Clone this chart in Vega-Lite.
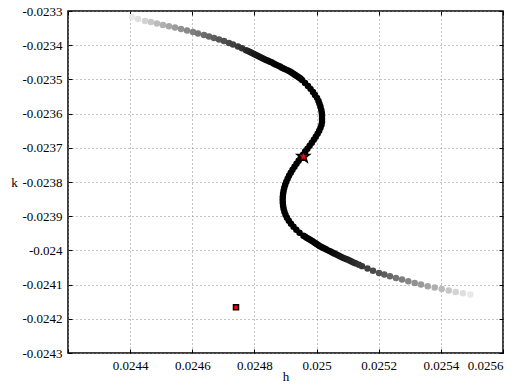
{
  "$schema": "https://vega.github.io/schema/vega-lite/v6.json",
  "width": 435,
  "height": 342,
  "autosize": {"type": "none"},
  "padding": {"left": 68, "top": 11, "right": 21, "bottom": 34},
  "background": "white",
  "config": {
    "view": {"stroke": "black", "strokeWidth": 1.5},
    "font": "Liberation Serif",
    "axis": {
      "labelFont": "Liberation Serif",
      "labelFontSize": 13,
      "labelColor": "black",
      "titleFont": "Liberation Serif",
      "titleFontSize": 13,
      "titleFontWeight": "normal",
      "titleColor": "black",
      "domain": false,
      "tickColor": "black",
      "tickSize": -4,
      "tickWidth": 1,
      "gridColor": "#888888",
      "gridDash": [1, 3],
      "gridWidth": 1,
      "gridOpacity": 1
    }
  },
  "datasets": {
    "curve": [
      {"h": 0.024406, "k": -0.0233175, "p": 0.03},
      {"h": 0.0244253, "k": -0.0233234, "p": 0.07},
      {"h": 0.0244478, "k": -0.0233292, "p": 0.12},
      {"h": 0.0244671, "k": -0.0233321, "p": 0.17},
      {"h": 0.0244864, "k": -0.0233365, "p": 0.22},
      {"h": 0.0245057, "k": -0.0233409, "p": 0.27},
      {"h": 0.0245251, "k": -0.0233447, "p": 0.31},
      {"h": 0.0245444, "k": -0.0233485, "p": 0.35},
      {"h": 0.0245637, "k": -0.0233526, "p": 0.39},
      {"h": 0.024583, "k": -0.0233569, "p": 0.43},
      {"h": 0.0246023, "k": -0.0233613, "p": 0.47},
      {"h": 0.0246184, "k": -0.0233657, "p": 0.51},
      {"h": 0.0246377, "k": -0.0233701, "p": 0.55},
      {"h": 0.0246538, "k": -0.0233745, "p": 0.58},
      {"h": 0.0246699, "k": -0.0233788, "p": 0.61},
      {"h": 0.024686, "k": -0.0233832, "p": 0.64},
      {"h": 0.0247021, "k": -0.0233876, "p": 0.67},
      {"h": 0.0247182, "k": -0.0233934, "p": 0.70},
      {"h": 0.024731, "k": -0.0233978, "p": 0.73},
      {"h": 0.0247471, "k": -0.0234037, "p": 0.76},
      {"h": 0.02476, "k": -0.0234089, "p": 0.79},
      {"h": 0.0247729, "k": -0.0234145, "p": 0.82},
      {"h": 0.0247793, "k": -0.0234171, "p": 0.835},
      {"h": 0.0247857, "k": -0.0234197, "p": 0.85},
      {"h": 0.0247922, "k": -0.0234226, "p": 0.865},
      {"h": 0.0247986, "k": -0.0234256, "p": 0.88},
      {"h": 0.0248051, "k": -0.0234285, "p": 0.89},
      {"h": 0.0248115, "k": -0.0234314, "p": 0.90},
      {"h": 0.0248179, "k": -0.0234343, "p": 0.91},
      {"h": 0.0248244, "k": -0.0234372, "p": 0.92},
      {"h": 0.0248308, "k": -0.0234401, "p": 0.93},
      {"h": 0.0248372, "k": -0.0234431, "p": 0.94},
      {"h": 0.0248437, "k": -0.0234457, "p": 0.95},
      {"h": 0.0248501, "k": -0.0234483, "p": 0.96},
      {"h": 0.0248566, "k": -0.0234509, "p": 0.97},
      {"h": 0.024863, "k": -0.0234539, "p": 0.98},
      {"h": 0.0248694, "k": -0.0234568, "p": 0.99},
      {"h": 0.0248759, "k": -0.0234597, "p": 1},
      {"h": 0.0248823, "k": -0.0234626, "p": 1},
      {"h": 0.0248887, "k": -0.0234656, "p": 1},
      {"h": 0.0248952, "k": -0.0234685, "p": 1},
      {"h": 0.0249016, "k": -0.0234714, "p": 1},
      {"h": 0.024908, "k": -0.023474, "p": 1},
      {"h": 0.0249145, "k": -0.0234766, "p": 1},
      {"h": 0.0249193, "k": -0.0234796, "p": 1},
      {"h": 0.0249241, "k": -0.0234825, "p": 1},
      {"h": 0.024929, "k": -0.0234854, "p": 1},
      {"h": 0.0249338, "k": -0.0234883, "p": 1},
      {"h": 0.0249386, "k": -0.0234912, "p": 1},
      {"h": 0.0249435, "k": -0.0234942, "p": 1},
      {"h": 0.0249483, "k": -0.0234977, "p": 1},
      {"h": 0.0249531, "k": -0.0235015, "p": 1},
      {"h": 0.0249628, "k": -0.0235102, "p": 1},
      {"h": 0.0249724, "k": -0.023519, "p": 1},
      {"h": 0.0249805, "k": -0.0235277, "p": 1},
      {"h": 0.0249885, "k": -0.0235365, "p": 1},
      {"h": 0.0249949, "k": -0.0235453, "p": 1},
      {"h": 0.0250014, "k": -0.023554, "p": 1},
      {"h": 0.0250062, "k": -0.0235628, "p": 1},
      {"h": 0.0250094, "k": -0.0235715, "p": 1},
      {"h": 0.0250126, "k": -0.0235803, "p": 1},
      {"h": 0.0250152, "k": -0.0235891, "p": 1},
      {"h": 0.0250168, "k": -0.0235978, "p": 1},
      {"h": 0.0250175, "k": -0.0236066, "p": 1},
      {"h": 0.0250175, "k": -0.0236153, "p": 1},
      {"h": 0.0250175, "k": -0.0236241, "p": 1},
      {"h": 0.0250159, "k": -0.0236328, "p": 1},
      {"h": 0.0250126, "k": -0.0236416, "p": 1},
      {"h": 0.0250085, "k": -0.0236504, "p": 1},
      {"h": 0.0250033, "k": -0.0236591, "p": 1},
      {"h": 0.0249975, "k": -0.0236679, "p": 1},
      {"h": 0.0249911, "k": -0.0236766, "p": 1},
      {"h": 0.0249847, "k": -0.0236854, "p": 1},
      {"h": 0.0249776, "k": -0.0236942, "p": 1},
      {"h": 0.0249705, "k": -0.0237029, "p": 1},
      {"h": 0.0249634, "k": -0.0237117, "p": 1},
      {"h": 0.0249563, "k": -0.0237204, "p": 1},
      {"h": 0.0249492, "k": -0.0237292, "p": 1},
      {"h": 0.0249422, "k": -0.023738, "p": 1},
      {"h": 0.0249354, "k": -0.0237467, "p": 1},
      {"h": 0.024929, "k": -0.0237555, "p": 1},
      {"h": 0.0249225, "k": -0.0237642, "p": 1},
      {"h": 0.0249168, "k": -0.023773, "p": 1},
      {"h": 0.0249113, "k": -0.0237818, "p": 1},
      {"h": 0.0249068, "k": -0.0237905, "p": 1},
      {"h": 0.0249026, "k": -0.0237993, "p": 1},
      {"h": 0.024899, "k": -0.023808, "p": 1},
      {"h": 0.0248961, "k": -0.0238168, "p": 1},
      {"h": 0.0248939, "k": -0.0238255, "p": 1},
      {"h": 0.0248923, "k": -0.0238343, "p": 1},
      {"h": 0.0248913, "k": -0.0238431, "p": 1},
      {"h": 0.024891, "k": -0.0238518, "p": 1},
      {"h": 0.0248913, "k": -0.0238606, "p": 1},
      {"h": 0.0248923, "k": -0.0238693, "p": 1},
      {"h": 0.0248939, "k": -0.0238781, "p": 1},
      {"h": 0.0248965, "k": -0.0238869, "p": 1},
      {"h": 0.0249, "k": -0.0238956, "p": 1},
      {"h": 0.0249048, "k": -0.0239044, "p": 1},
      {"h": 0.0249106, "k": -0.0239131, "p": 1},
      {"h": 0.0249177, "k": -0.0239219, "p": 1},
      {"h": 0.0249258, "k": -0.0239307, "p": 1},
      {"h": 0.0249348, "k": -0.0239394, "p": 1},
      {"h": 0.0249451, "k": -0.0239482, "p": 1},
      {"h": 0.0249579, "k": -0.0239569, "p": 1},
      {"h": 0.0249634, "k": -0.0239604, "p": 1},
      {"h": 0.0249692, "k": -0.0239637, "p": 1},
      {"h": 0.024975, "k": -0.0239666, "p": 1},
      {"h": 0.0249805, "k": -0.0239698, "p": 1},
      {"h": 0.0249859, "k": -0.0239727, "p": 1},
      {"h": 0.0249917, "k": -0.0239759, "p": 1},
      {"h": 0.0249966, "k": -0.0239788, "p": 1},
      {"h": 0.0250014, "k": -0.0239821, "p": 1},
      {"h": 0.0250062, "k": -0.023985, "p": 1},
      {"h": 0.025011, "k": -0.0239879, "p": 1},
      {"h": 0.0250175, "k": -0.0239908, "p": 1},
      {"h": 0.0250239, "k": -0.023994, "p": 1},
      {"h": 0.0250304, "k": -0.0239969, "p": 0.995},
      {"h": 0.0250368, "k": -0.0239999, "p": 0.99},
      {"h": 0.0250432, "k": -0.0240028, "p": 0.98},
      {"h": 0.0250497, "k": -0.0240057, "p": 0.97},
      {"h": 0.0250561, "k": -0.0240086, "p": 0.96},
      {"h": 0.0250625, "k": -0.0240115, "p": 0.95},
      {"h": 0.025069, "k": -0.0240145, "p": 0.935},
      {"h": 0.0250754, "k": -0.0240174, "p": 0.92},
      {"h": 0.0250818, "k": -0.02402, "p": 0.905},
      {"h": 0.0250883, "k": -0.0240226, "p": 0.89},
      {"h": 0.0250947, "k": -0.0240253, "p": 0.88},
      {"h": 0.0251012, "k": -0.0240276, "p": 0.87},
      {"h": 0.0251076, "k": -0.0240302, "p": 0.86},
      {"h": 0.025114, "k": -0.0240329, "p": 0.85},
      {"h": 0.0251205, "k": -0.0240358, "p": 0.835},
      {"h": 0.0251269, "k": -0.0240384, "p": 0.82},
      {"h": 0.0251366, "k": -0.0240422, "p": 0.79},
      {"h": 0.0251462, "k": -0.024046, "p": 0.77},
      {"h": 0.0251639, "k": -0.0240527, "p": 0.73},
      {"h": 0.0251816, "k": -0.0240597, "p": 0.69},
      {"h": 0.0252009, "k": -0.0240658, "p": 0.65},
      {"h": 0.025218, "k": -0.0240708, "p": 0.61},
      {"h": 0.0252363, "k": -0.0240758, "p": 0.57},
      {"h": 0.0252556, "k": -0.0240805, "p": 0.52},
      {"h": 0.025275, "k": -0.0240854, "p": 0.48},
      {"h": 0.0252952, "k": -0.0240904, "p": 0.44},
      {"h": 0.0253158, "k": -0.0240951, "p": 0.40},
      {"h": 0.0253361, "k": -0.0241, "p": 0.36},
      {"h": 0.0253577, "k": -0.0241047, "p": 0.32},
      {"h": 0.0253802, "k": -0.0241088, "p": 0.27},
      {"h": 0.0254027, "k": -0.0241129, "p": 0.22},
      {"h": 0.0254252, "k": -0.0241172, "p": 0.17},
      {"h": 0.0254478, "k": -0.0241213, "p": 0.12},
      {"h": 0.0254713, "k": -0.0241254, "p": 0.07},
      {"h": 0.0254948, "k": -0.0241292, "p": 0.03}
    ],
    "marks": [
      {"kind": "square", "h": 0.0247407, "k": -0.0241663},
      {"kind": "star", "h": 0.0249573, "k": -0.0237254}
    ]
  },
  "layer": [
    {
      "data": {"name": "curve"},
      "mark": {"type": "circle", "size": 42, "opacity": 1},
      "encoding": {
        "x": {
          "field": "h",
          "type": "quantitative",
          "scale": {"domain": [0.0242, 0.0256], "nice": false, "zero": false},
          "axis": {
            "values": [0.0242, 0.0244, 0.0246, 0.0248, 0.025, 0.0252, 0.0254, 0.0256],
            "labelExpr": "datum.value < 0.02421 ? '' : replace(format(datum.value, '.4~f'), '−', '-')",
            "labelPadding": 10,
            "title": "h",
            "titleX": 217.5,
            "titleY": 23.5,
            "titleBaseline": "middle",
            "titleAlign": "center",
            "grid": true
          }
        },
        "y": {
          "field": "k",
          "type": "quantitative",
          "scale": {"domain": [-0.0243, -0.0233], "nice": false, "zero": false},
          "axis": {
            "values": [-0.0243, -0.0242, -0.0241, -0.024, -0.0239, -0.0238, -0.0237, -0.0236, -0.0235, -0.0234, -0.0233],
            "labelExpr": "replace(format(datum.value, '.4~f'), '−', '-')",
            "labelPadding": 10,
            "title": "k",
            "titleAngle": 0,
            "titleX": -54,
            "titleY": 171,
            "titleAlign": "center",
            "titleBaseline": "middle",
            "grid": true
          }
        },
        "color": {
          "field": "p",
          "type": "quantitative",
          "scale": {"domain": [0, 1], "range": ["#f0f0f0", "#000000"], "interpolate": "rgb"},
          "legend": null
        }
      }
    },
    {
      "data": {"name": "marks"},
      "transform": [{"filter": "datum.kind == 'square'"}],
      "mark": {"type": "point", "shape": "square", "filled": true, "fill": "#ff0000", "stroke": "black", "strokeWidth": 1.5, "size": 25, "opacity": 1},
      "encoding": {
        "x": {
          "field": "h",
          "type": "quantitative",
          "scale": {"domain": [0.0242, 0.0256], "nice": false, "zero": false},
          "axis": {"orient": "top", "labels": false, "title": null, "grid": false, "values": [0.0242, 0.0244, 0.0246, 0.0248, 0.025, 0.0252, 0.0254, 0.0256]}
        },
        "y": {
          "field": "k",
          "type": "quantitative",
          "scale": {"domain": [-0.0243, -0.0233], "nice": false, "zero": false},
          "axis": {"orient": "right", "labels": false, "title": null, "grid": false, "values": [-0.0243, -0.0242, -0.0241, -0.024, -0.0239, -0.0238, -0.0237, -0.0236, -0.0235, -0.0234, -0.0233]}
        }
      }
    },
    {
      "data": {"name": "marks"},
      "transform": [{"filter": "datum.kind == 'star'"}],
      "mark": {"type": "point", "shape": "M0,-1L0.235,-0.324L0.951,-0.309L0.38,0.124L0.588,0.809L0,0.4L-0.588,0.809L-0.38,0.124L-0.951,-0.309L-0.235,-0.324Z", "filled": true, "fill": "#ff0000", "stroke": "black", "strokeWidth": 1.6, "size": 165, "opacity": 1},
      "encoding": {
        "x": {"field": "h", "type": "quantitative", "scale": {"domain": [0.0242, 0.0256], "nice": false, "zero": false}, "axis": null},
        "y": {"field": "k", "type": "quantitative", "scale": {"domain": [-0.0243, -0.0233], "nice": false, "zero": false}, "axis": null}
      }
    }
  ],
  "resolve": {"axis": {"x": "independent", "y": "independent"}}
}
